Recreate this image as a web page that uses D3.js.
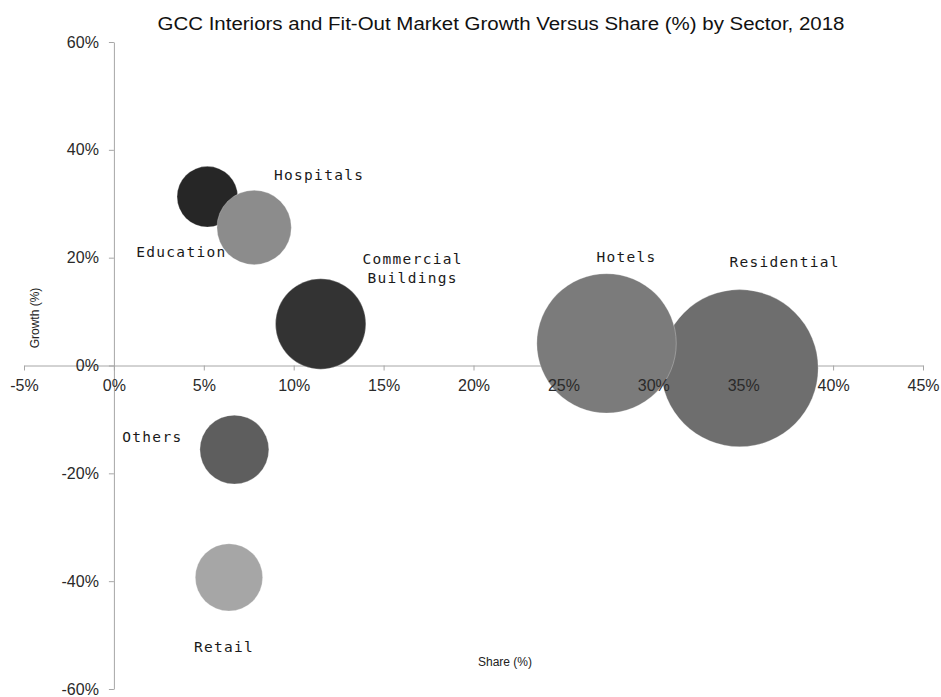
<!DOCTYPE html>
<html>
<head>
<meta charset="utf-8">
<script src="https://cdn.jsdelivr.net/npm/d3@7"></script>
<style>
  html, body { margin: 0; padding: 0; background: #fff; }
  svg { display: block; }
  .tick text { font-family: "Liberation Sans", Arial, sans-serif; font-size: 16px; fill: #2a2a2a; }
</style>
</head>
<body>
<svg id="chart" width="941" height="697"></svg>
<script>
// Sector data: market share (%) on x, growth (%) on y; bubble area follows share.
const sectors = ["Education", "Hospitals", "Commercial Buildings", "Residential", "Hotels", "Others", "Retail"];
const share   = [5.2, 7.8, 11.5, 34.8, 27.4, 6.7, 6.4];
const growth  = [31.3, 25.6, 7.7, -0.5, 4.1, -15.6, -39.3];
const xTicks  = [-5, 0, 5, 10, 15, 20, 25, 30, 35, 40, 45];
const yTicks  = [-60, -40, -20, 0, 20, 40, 60];

// Presentation
const fills = ["#262626", "#8c8c8c", "#333333", "#6e6e6e", "#7b7b7b", "#5e5e5e", "#a6a6a6"];
const labelOffsets = [[-26, 55], [65, -53], [92, -65], [45, -106], [20, -86], [-82, -13], [-5, 70]];

const svg = d3.select("#chart");
const x = d3.scaleLinear().domain([-5, 45]).range([24, 923]);
const y = d3.scaleLinear().domain([-60, 60]).range([689, 42]);
const r = d3.scaleSqrt().domain([0, 35]).range([0, 78.8]);
const axisColor = "#a6a6a6";
const pct = d => d + "%";

const xAxis = d3.axisBottom(x).tickValues(xTicks).tickFormat(pct).tickSize(5).tickSizeOuter(0).tickPadding(9);
const yAxis = d3.axisLeft(y).tickValues(yTicks).tickFormat(pct).tickSize(5).tickSizeOuter(0).tickPadding(10);

// Title
svg.append("text")
  .attr("x", 501).attr("y", 30)
  .attr("text-anchor", "middle")
  .attr("textLength", 687).attr("lengthAdjust", "spacingAndGlyphs")
  .style("font-family", "'Liberation Sans', Arial, sans-serif")
  .style("font-size", "17.5px").style("fill", "#111")
  .text("GCC Interiors and Fit-Out Market Growth Versus Share (%) by Sector, 2018");

// Axis lines and ticks crossing at the origin (behind the bubbles)
const gx = svg.append("g").attr("transform", `translate(0,${y(0)})`).call(xAxis);
const gy = svg.append("g").attr("transform", `translate(${x(0)},0)`).call(yAxis);
[gx, gy].forEach(g => {
  g.select(".domain").attr("stroke", axisColor);
  g.selectAll(".tick line").attr("stroke", axisColor);
  g.selectAll(".tick text").remove();
});

// Axis titles
svg.append("text")
  .attr("x", 505).attr("y", 666).attr("text-anchor", "middle")
  .style("font-family", "'Liberation Sans', Arial, sans-serif")
  .style("font-size", "12px").style("fill", "#222")
  .text("Share (%)");
svg.append("text")
  .attr("transform", "translate(39,318) rotate(-90)").attr("text-anchor", "middle")
  .style("font-family", "'Liberation Sans', Arial, sans-serif")
  .style("font-size", "12px").style("fill", "#222")
  .text("Growth (%)");

// Bubbles
const data = sectors.map((s, i) => ({ name: s, share: share[i], growth: growth[i], fill: fills[i], off: labelOffsets[i] }));
svg.append("g").selectAll("circle").data(data).join("circle")
  .attr("cx", d => x(d.share))
  .attr("cy", d => y(d.growth))
  .attr("r", d => r(d.share))
  .attr("fill", d => d.fill)
  .attr("stroke", "#ffffff").attr("stroke-opacity", 0.35).attr("stroke-width", 0.8);

// Tick labels drawn over the bubbles
[[xAxis, `translate(0,${y(0)})`], [yAxis, `translate(${x(0)},0)`]].forEach(([ax, tr]) => {
  const g = svg.append("g").attr("transform", tr).call(ax);
  g.select(".domain").remove();
  g.selectAll(".tick line").remove();
});

// Sector labels
const labels = svg.append("g").selectAll("text").data(data).join("text")
  .attr("text-anchor", "middle")
  .attr("x", d => x(d.share) + d.off[0])
  .attr("y", d => y(d.growth) + d.off[1])
  .style("font-family", "'DejaVu Sans Mono', 'Liberation Mono', monospace")
  .style("font-size", "14.5px").style("letter-spacing", "1.3px").style("fill", "#1a1a1a");
labels.each(function(d) {
  const words = d.name === "Commercial Buildings" ? ["Commercial", "Buildings"] : [d.name];
  d3.select(this).selectAll("tspan").data(words).join("tspan")
    .attr("x", x(d.share) + d.off[0])
    .attr("dy", (w, i) => i === 0 ? "0.35em" : "19px")
    .text(w => w);
});
</script>
</body>
</html>
